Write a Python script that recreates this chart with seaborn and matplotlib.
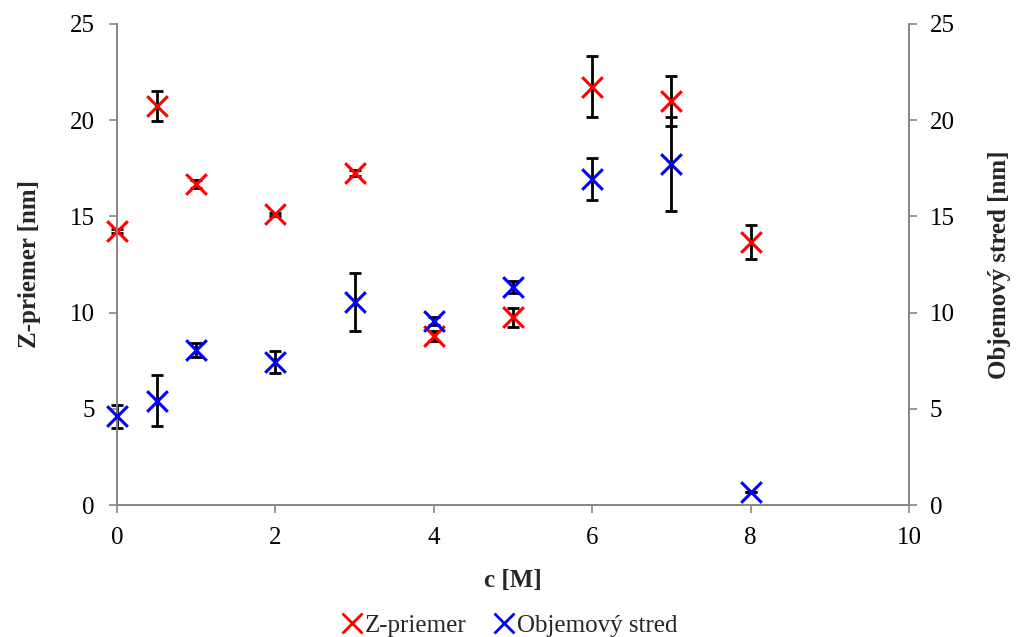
import matplotlib
matplotlib.use("Agg")
import matplotlib.pyplot as plt
import seaborn as sns
import pandas as pd
from matplotlib.lines import Line2D

sns.set_theme(style="white")
plt.rcParams['font.family'] = ['Liberation Serif', 'DejaVu Serif']

c = [0, 0.5, 1, 2, 3, 4, 5, 6, 7, 8]
z_priemer = [14.24, 20.74, 16.7, 15.1, 17.26, 8.78, 9.75, 21.75, 21.0, 13.67]
z_err = [0.1, 0.78, 0.2, 0.1, 0.15, 0.25, 0.5, 1.58, 1.3, 0.88]
objem = [4.6, 5.43, 8.05, 7.43, 10.55, 9.56, 11.33, 16.94, 17.72, 0.68]
objem_err = [0.6, 1.33, 0.35, 0.57, 1.5, 0.2, 0.3, 1.09, 2.45, 0.0]

df = pd.DataFrame({"c": c, "z": z_priemer, "zerr": z_err, "o": objem, "oerr": objem_err})

FS = 18
fig = plt.figure(figsize=(10.17, 6.37), dpi=100)
ax = fig.add_axes([117/1017, 1-505/637, (909-117)/1017, (505-24)/637])
ax2 = ax.twinx()

eb = ax.errorbar(df["c"], df["z"], yerr=df["zerr"], fmt="none", ecolor="black",
                 elinewidth=2, capsize=4.5, capthick=2, zorder=2)
sns.scatterplot(data=df, x="c", y="z", ax=ax, marker="x", color="red",
                s=220, linewidth=2.2, zorder=3, legend=False, clip_on=False)

eb2 = ax2.errorbar(df["c"], df["o"], yerr=df["oerr"], fmt="none", ecolor="black",
                   elinewidth=2, capsize=4.5, capthick=2, zorder=2)
sns.scatterplot(data=df, x="c", y="o", ax=ax2, marker="x", color="blue",
                s=220, linewidth=2.2, zorder=3, legend=False, clip_on=False)

for container in (eb, eb2):
    for art in container.lines[1]:
        art.set_clip_on(False)
    for art in container.lines[2]:
        art.set_clip_on(False)

for a in (ax, ax2):
    a.set_ylim(0, 25)
    a.set_yticks([0, 5, 10, 15, 20, 25])
    a.set_xlim(0, 10)
    a.tick_params(axis="both", labelsize=FS, length=6, width=1.2, color="#888888",
                  direction="out", pad=8, labelcolor="black")
    for s in a.spines.values():
        s.set_color("#888888")
        s.set_linewidth(1.3)
    a.spines["top"].set_visible(False)
    a.grid(False)

ax.set_xticks([0, 2, 4, 6, 8, 10])
ax.tick_params(axis="x", bottom=True, pad=10)
ax.tick_params(axis="y", left=True, pad=10)
ax2.tick_params(axis="y", right=True, pad=9)
ax.set_xlabel("c [M]", fontsize=FS, fontweight="bold", labelpad=14)
ax.set_ylabel("Z-priemer [nm]", fontsize=FS, fontweight="bold", labelpad=21)
ax2.set_ylabel("Objemový stred [nm]", fontsize=FS, fontweight="bold", labelpad=24)

handles = [
    Line2D([], [], marker="x", color="red", linestyle="none", markersize=14, markeredgewidth=2),
    Line2D([], [], marker="x", color="blue", linestyle="none", markersize=14, markeredgewidth=2),
]
fig.legend(handles, ["Z-priemer", "Objemový stred"], loc="lower center",
           bbox_to_anchor=(0.5, -0.035), ncol=2, frameon=False, fontsize=FS,
           handletextpad=0.0, columnspacing=1.0, handlelength=1.0)

fig.savefig("out.png", dpi=100)
